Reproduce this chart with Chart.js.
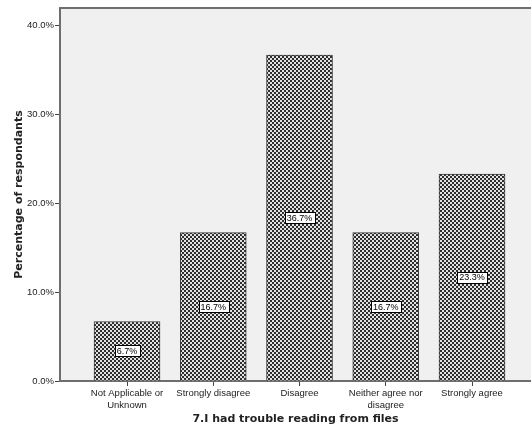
<!DOCTYPE html>
<html>
<head>
<meta charset="utf-8">
<script src="https://cdn.jsdelivr.net/npm/chart.js@4/dist/chart.umd.min.js"></script>
<style>
  html, body { margin: 0; padding: 0; background: #fff; }
  #wrap { width: 531px; height: 432px; }
</style>
</head>
<body>
<div id="wrap"><canvas id="chart" width="531" height="432"></canvas></div>
<script>
// categories (each entry = lines of the tick label)
const categories = [
    ['Not Applicable or', 'Unknown'],
    ['Strongly disagree'],
    ['Disagree'],
    ['Neither agree nor', 'disagree'],
    ['Strongly agree']
];
const percentValues = [6.7, 16.7, 36.7, 16.7, 23.3];
const yTickValues = [0, 10, 20, 30, 40];

const xTitle = '7.I had trouble reading from files';
const yTitle = 'Percentage of respondants';

// checkered fill like the SPSS bars
function makePattern() {
    const c = document.createElement('canvas');
    c.width = 4; c.height = 4;
    const g = c.getContext('2d');
    g.fillStyle = '#2e2e2e';
    g.fillRect(0, 0, 4, 4);
    g.fillStyle = '#e2e2e2';
    g.fillRect(0, 0, 2, 2);
    g.fillRect(2, 2, 2, 2);
    return g.createPattern(c, 'repeat');
}

// plot background and top frame line
const plotFrame = {
    id: 'plotFrame',
    beforeDraw(chart) {
        const {ctx, chartArea: a} = chart;
        ctx.save();
        ctx.fillStyle = '#f0f0f0';
        ctx.fillRect(a.left, a.top, a.right - a.left, a.bottom - a.top);
        ctx.strokeStyle = '#6e6e6e';
        ctx.lineWidth = 2;
        ctx.beginPath();
        ctx.moveTo(a.left, a.top);
        ctx.lineTo(a.right, a.top);
        ctx.stroke();
        ctx.restore();
    }
};

// boxed value labels in the middle of each bar
const valueBoxes = {
    id: 'valueBoxes',
    afterDatasetsDraw(chart) {
        const {ctx} = chart;
        const meta = chart.getDatasetMeta(0);
        ctx.save();
        ctx.font = '9px "Liberation Sans", Arial, sans-serif';
        ctx.textAlign = 'center';
        ctx.textBaseline = 'middle';
        meta.data.forEach((bar, i) => {
            const txt = percentValues[i].toFixed(1) + '%';
            const cy = (bar.y + bar.base) / 2;
            const w = ctx.measureText(txt).width + 4;
            const h = 11;
            ctx.fillStyle = '#fff';
            ctx.fillRect(Math.round(bar.x - w / 2), Math.round(cy - h / 2), Math.round(w), h);
            ctx.strokeStyle = '#000';
            ctx.lineWidth = 1;
            ctx.strokeRect(Math.round(bar.x - w / 2) + 0.5, Math.round(cy - h / 2) + 0.5, Math.round(w), h);
            ctx.fillStyle = '#000';
            ctx.fillText(txt, bar.x, cy + 0.5);
        });
        ctx.restore();
    }
};

const points = percentValues.map((v, i) => ({x: i + 1, y: v}));

new Chart(document.getElementById('chart'), {
    type: 'bar',
    data: {
        datasets: [{
            data: points,
            backgroundColor: makePattern(),
            borderColor: '#3a3a3a',
            borderWidth: 1,
            barThickness: 66
        }]
    },
    options: {
        responsive: false,
        animation: false,
        layout: { padding: { top: 8, right: 0, left: 0, bottom: 0 } },
        plugins: {
            legend: { display: false },
            tooltip: { enabled: false }
        },
        scales: {
            x: {
                type: 'linear',
                offset: false,
                min: 0.223,
                max: 5.684,
                afterBuildTicks: axis => {
                    axis.ticks = categories.map((_, i) => ({value: i + 1}));
                },
                afterFit: scale => { scale.height = 51; },
                ticks: {
                    callback: v => categories[v - 1] || '',
                    color: '#222',
                    font: { family: '"Liberation Sans", Arial, sans-serif', size: 9.5 },
                    maxRotation: 0,
                    autoSkip: false,
                    padding: 2
                },
                grid: {
                    offset: false,
                    drawOnChartArea: false,
                    drawTicks: true,
                    tickLength: 5,
                    color: '#444'
                },
                border: { color: '#6e6e6e', width: 2 },
                title: {
                    display: true,
                    text: xTitle,
                    color: '#222',
                    font: { family: '"DejaVu Sans", Verdana, sans-serif', size: 11, weight: 'bold' },
                    padding: { top: 0, bottom: 6 }
                }
            },
            y: {
                min: 0,
                max: 42,
                afterBuildTicks: axis => {
                    axis.ticks = yTickValues.map(v => ({value: v}));
                },
                afterFit: scale => { scale.width = 60; },
                ticks: {
                    callback: v => v.toFixed(1) + '%',
                    color: '#222',
                    font: { family: '"Liberation Sans", Arial, sans-serif', size: 9.5 },
                    padding: 1
                },
                grid: {
                    drawOnChartArea: false,
                    drawTicks: true,
                    tickLength: 5,
                    color: '#444'
                },
                border: { color: '#6e6e6e', width: 2 },
                title: {
                    display: true,
                    text: yTitle,
                    color: '#222',
                    font: { family: '"DejaVu Sans", Verdana, sans-serif', size: 11, weight: 'bold' },
                    padding: { top: 13, bottom: 0 }
                }
            }
        }
    },
    plugins: [plotFrame, valueBoxes]
});
</script>
</body>
</html>
